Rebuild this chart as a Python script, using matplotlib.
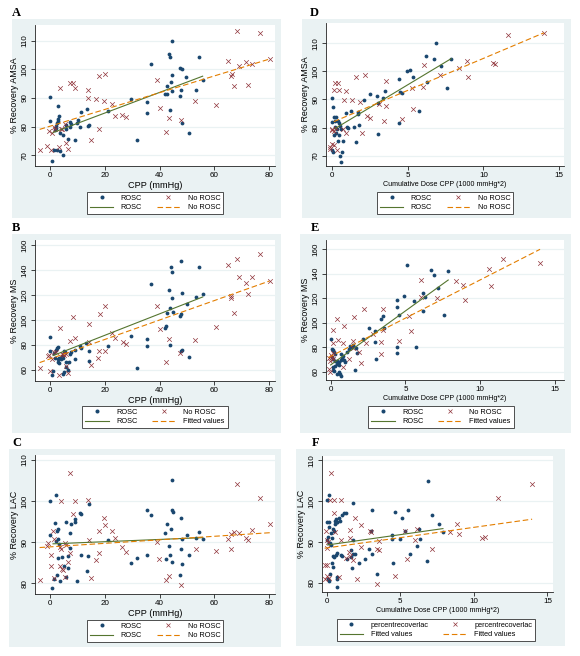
import numpy as np
import matplotlib
matplotlib.use("Agg")
import matplotlib.pyplot as plt
from matplotlib.patches import Rectangle
from matplotlib.lines import Line2D

plt.rcParams['font.family'] = ['Liberation Sans', 'DejaVu Sans']

# Couleurs style Stata s2color
NAVY = "#1A476F"
MAROON = "#90353B"
GREEN = "#55752F"
ORANGE = "#E37E00"
BG = "#EAF2F3"

W, H = 580, 656

# ---------------- Données ----------------
# Panel A : CPP vs % Recovery AMSA
a_rosc_cpp = [0, 0, 0.6, 2.8, 3.1, 2.9, 2.8, 2.5, 2.2, 2.0, 1.6, 3.4, 4.7, 1.5, 2.3, 3.6, 4.7,
              6.5, 9.0, 5.6, 5.9, 7.4, 7.4, 7.5, 9.6, 10.8, 10.2, 11.4, 13.5, 13.8, 14.2, 21.3,
              29.5, 31.6, 35.5, 35.3, 36.9, 42.0, 42.6, 42.8, 43.3, 43.9, 44.6, 43.8, 44.7, 44.1,
              44.7, 47.5, 48.3, 47.8, 47.5, 48.3, 49.8, 50.9, 53.3, 54.3, 55.8]
a_rosc_amsa = [90.5, 81.8, 67.8, 87.3, 83.8, 82.6, 81.9, 81.1, 80.2, 79.5, 78.8, 77.8, 77.0, 71.7,
               71.8, 71.4, 70.1, 75.5, 75.3, 79.0, 80.6, 81.6, 79.9, 80.9, 81.3, 79.9, 82.3, 85.1,
               86.0, 80.3, 80.4, 85.5, 89.6, 75.2, 88.7, 84.6, 101.7, 91.4, 91.5, 94.0, 105.3,
               104.2, 110.0, 85.9, 97.9, 95.4, 92.3, 100.3, 100.0, 92.9, 90.7, 81.4, 97.2, 77.7,
               92.9, 104.4, 96.1]
a_no_cpp = [-3.9, -1.1, -0.6, 0.1, 0.5, 1.2, 1.6, 3.3, 3.7, 4.0, 4.3, 5.5, 5.6, 6.5, 7.1, 8.5,
            9.1, 13.9, 13.9, 14.8, 16.8, 17.8, 17.9, 19.7, 20.1, 22.7, 23.8, 26.3, 27.8, 39.0,
            40.0, 42.5, 43.5, 48.0, 52.9, 60.7, 65.1, 66.2, 66.4, 67.3, 68.4, 69.1, 71.6, 72.4,
            73.7, 76.8, 80.3]
a_no_amsa = [71.8, 73.3, 78.5, 71.8, 77.6, 79.7, 79.0, 72.9, 93.3, 79.3, 79.0, 80.9, 74.1, 72.0,
             95.3, 95.3, 93.3, 92.6, 90.0, 75.3, 89.8, 97.8, 79.2, 88.8, 98.5, 88.0, 83.7, 84.2,
             83.5, 96.2, 86.6, 78.2, 83.1, 82.3, 89.1, 87.7, 102.8, 97.8, 98.5, 94.3, 113.4,
             101.0, 102.4, 94.4, 102.0, 112.8, 103.6]
a_fit_rosc = ([1.0, 55.8], [77.9, 97.6])
a_fit_no = ([-3.9, 80.3], [79.0, 103.6])

# Panel B : CPP vs % Recovery MS
b_rosc_cpp = [0, 0, 0.5, 1.0, 1.5, 1.7, 2.2, 2.5, 2.8, 2.7, 2.9, 3.2, 3.2, 3.8, 4.2, 4.7, 5.1,
              5.4, 5.9, 5.6, 5.1, 4.7, 6.6, 6.7, 7.1, 7.6, 8.9, 9.2, 10.8, 11.2, 13.2, 14.2, 14.0,
              21.3, 29.5, 31.6, 35.3, 35.5, 36.9, 41.9, 42.5, 42.8, 43.6, 43.8, 43.9, 44.2, 44.6,
              44.7, 45.0, 47.5, 47.7, 47.8, 48.3, 47.8, 48.4, 49.9, 50.9, 53.3, 54.3, 55.8]
b_rosc_ms = [86.7, 75.2, 56.0, 59.5, 73.3, 69.9, 76.0, 77.3, 78.4, 68.8, 66.7, 65.9, 69.9, 68.8,
             71.5, 69.3, 75.2, 74.1, 66.7, 62.7, 58.7, 56.5, 60.0, 66.4, 72.5, 74.1, 76.0, 68.8,
             79.5, 77.9, 81.9, 75.2, 67.2, 79.2, 87.2, 61.3, 79.2, 84.8, 128.5, 93.3, 94.9, 105.9,
             124.0, 80.0, 109.9, 142.7, 138.7, 117.6, 106.7, 102.9, 104.8, 75.2, 76.0, 146.9,
             121.9, 112.5, 70.7, 118.4, 142.1, 120.5]
b_no_cpp = [-3.9, -1.0, -0.6, 0, 0.7, 1.2, 2.0, 3.2, 3.7, 4.3, 4.7, 5.1, 5.6, 5.6, 6.5, 7.1, 8.3,
            9.1, 14.2, 14.2, 14.95, 17.5, 17.9, 18.1, 20.1, 19.9, 22.5, 23.7, 26.5, 27.7, 39.0,
            40.0, 42.3, 43.3, 47.5, 53.1, 60.7, 65.0, 66.3, 66.3, 67.4, 68.4, 69.1, 71.6, 72.4,
            73.7, 76.8, 80.3]
b_no_ms = [61.3, 71.2, 72.0, 59.2, 68.8, 74.1, 74.1, 56.0, 93.9, 72.5, 72.8, 72.0, 72.5, 63.5,
           57.9, 83.2, 102.7, 85.9, 97.1, 82.7, 64.0, 69.9, 75.5, 104.8, 111.2, 75.5, 89.9, 85.3,
           82.7, 80.8, 111.2, 92.8, 66.7, 85.1, 73.9, 83.7, 94.7, 144.0, 119.2, 117.9, 105.3,
           148.8, 134.1, 129.9, 121.1, 134.1, 152.5, 131.2]
b_fit_rosc = ([1.0, 55.8], [71.5, 118.4])
b_fit_no = ([-3.9, 80.3], [65.9, 131.2])

# Panel C : CPP vs % Recovery LAC
c_rosc_cpp = [0, 0, 0.6, 1.5, 1.6, 2.0, 2.2, 2.5, 2.8, 2.9, 2.7, 2.5, 3.2, 3.4, 4.4, 5.1, 5.6,
              5.9, 6.5, 6.6, 7.4, 7.4, 7.6, 8.9, 9.2, 9.8, 10.8, 11.2, 11.4, 13.5, 13.9, 14.2,
              21.1, 29.5, 31.6, 35.3, 35.5, 36.9, 41.9, 42.6, 42.5, 43.6, 44.1, 43.8, 44.4, 44.6,
              44.7, 44.8, 47.7, 47.8, 47.5, 48.3, 48.3, 49.9, 50.9, 53.3, 54.3, 55.8]
c_rosc_lac = [100.1, 91.8, 78.8, 81.1, 94.6, 90.4, 101.5, 92.7, 93.3, 90.8, 86.2, 81.9, 89.5,
              80.5, 86.3, 84.2, 81.6, 95.0, 86.7, 83.7, 92.3, 88.7, 94.5, 95.0, 95.6, 80.6, 97.0,
              96.9, 87.0, 83.0, 86.6, 99.3, 90.5, 84.9, 86.1, 87.0, 97.8, 96.5, 92.2, 94.4, 85.8,
              89.0, 93.1, 86.8, 85.2, 105.0, 97.8, 97.3, 95.8, 88.3, 81.9, 84.6, 90.7, 91.7, 87.0,
              90.9, 92.4, 90.8]
c_no_cpp = [-3.9, -1.1, -1.0, 0.4, 0.2, 1.0, 1.5, 1.2, 3.4, 3.7, 4.0, 3.9, 4.2, 4.7, 5.5, 5.6,
            5.5, 6.5, 7.1, 7.2, 8.3, 9.1, 13.9, 14.2, 14.8, 16.8, 17.8, 17.9, 19.6, 20.0, 22.5,
            23.8, 26.3, 27.8, 39.0, 39.8, 42.4, 43.5, 47.9, 53.2, 60.7, 65.1, 66.2, 66.3, 67.4,
            68.4, 69.1, 71.7, 72.4, 73.8, 76.8, 80.4]
c_no_lac = [80.8, 89.1, 89.8, 84.2, 87.0, 92.6, 90.7, 81.4, 84.2, 88.8, 88.3, 99.9, 83.6, 83.2,
            89.7, 89.3, 81.6, 85.3, 106.9, 87.3, 96.9, 100.1, 100.3, 90.5, 81.3, 85.6, 92.8, 87.4,
            95.8, 94.1, 92.7, 90.9, 88.8, 87.5, 90.0, 85.8, 80.9, 81.8, 79.7, 88.3, 87.9, 90.7,
            91.9, 88.3, 92.5, 104.2, 92.3, 91.0, 90.5, 93.0, 100.7, 94.5]
c_fit_rosc = ([1.0, 55.8], [89.6, 91.1])
c_fit_no = ([-3.9, 80.4], [88.7, 92.3])

# Panel D : dose cumulée vs % Recovery AMSA
d_rosc_dose = [0, 0.04, 0.1, 0.26, 0, 0.2, 0.35, 0.44, 0.53, 0.2, 0.3, 0.57, 0.22, 0.1, 0.44,
               0.37, 0.7, 0, 0.04, 0.66, 0.5, 0.57, 0.88, 1.23, 1.41, 0.97, 1.06, 1.67, 1.67,
               1.54, 1.74, 2.11, 2.49, 2.97, 3.0, 3.04, 3.33, 3.5, 4.43, 4.43, 4.47, 4.6, 4.93,
               5.11, 5.33, 5.73, 6.17, 6.26, 6.74, 6.87, 7.2, 7.62, 7.86]
d_rosc_amsa = [90.6, 87.4, 83.9, 83.6, 81.9, 82.3, 82.2, 81.5, 80.5, 80.1, 79.5, 79.4, 77.9,
               77.2, 77.5, 75.3, 75.1, 71.9, 71.4, 71.3, 69.9, 67.6, 85.2, 86.0, 80.3, 80.1,
               79.8, 85.5, 84.8, 75.0, 80.8, 89.7, 91.8, 91.2, 88.6, 77.7, 90.6, 93.0, 97.4,
               81.5, 92.8, 92.2, 100.0, 100.6, 97.9, 86.0, 105.6, 96.3, 104.4, 110.2, 101.8,
               94.1, 104.5]
d_no_dose = [-0.18, -0.13, 0, 0.1, 0.3, 0, 0, 0.1, 0.22, 0.18, 0.4, 0.1, 0.42, 0.8, 0.88, 1.28,
             0.7, 0.93, 1.54, 1.85, 1.98, 2.18, 2.29, 2.51, 3.08, 3.39, 3.55, 3.52, 4.58, 5.26,
             5.37, 6.06, 6.0, 7.14, 8.39, 8.9, 8.96, 10.6, 10.75, 11.6, 14.0]
d_no_amsa = [72.2, 72.9, 74.0, 73.8, 72.0, 79.1, 79.5, 78.8, 79.7, 95.7, 95.7, 93.5, 93.5, 89.9,
             92.9, 89.9, 79.5, 78.2, 98.0, 89.0, 78.2, 98.6, 84.2, 83.5, 88.4, 82.4, 96.5, 87.8,
             83.0, 94.2, 86.7, 102.3, 94.4, 98.6, 101.2, 103.7, 97.9, 102.9, 102.6, 113.1, 113.7]
d_fit_rosc = ([0.2, 7.86], [79.7, 104.5])
d_fit_no = ([0.1, 14.0], [82.1, 113.7])

# Panel E : dose cumulée vs % Recovery MS
e_rosc_dose = [0, 0.07, 0.18, 0.22, 0.29, 0.09, 0.18, 0.31, 0.40, 0.54, 0.45, 0.58, 0.71, 0.76,
               0.85, 0.67, 0.27, 0.18, 0.13, 0.25, 0.4, 0.54, 0.63, 0.67, 0.89, 0.98, 1.07, 1.25,
               1.29, 1.43, 1.52, 1.7, 1.79, 1.61, 2.14, 2.59, 2.99, 2.99, 3.04, 3.37, 3.53, 3.57,
               4.46, 4.42, 4.58, 4.46, 4.46, 4.93, 5.13, 5.58, 6.16, 6.16, 6.34, 6.72, 6.9, 7.21,
               7.59, 7.86, 5.71]
e_rosc_ms = [87.0, 78.5, 77.4, 76.3, 74.7, 71.7, 70.4, 69.0, 66.5, 65.4, 68.7, 68.2, 69.3, 71.4,
             72.5, 74.2, 64.9, 63.8, 61.4, 60.5, 57.8, 60.0, 57.8, 56.7, 69.3, 68.2, 75.8, 78.5,
             81.3, 80.2, 81.5, 79.1, 75.0, 61.1, 87.0, 95.4, 84.5, 93.5, 70.4, 103.1, 105.5,
             96.0, 79.9, 75.5, 106.0, 112.9, 118.6, 121.9, 147.2, 117.5, 109.6, 124.0, 121.0,
             142.8, 138.7, 128.7, 106.0, 142.3, 79.9]
e_no_dose = [-0.11, -0.04, -0.09, 0.0, 0.07, 0.13, -0.04, 0.18, 0.13, 0.45, 0.18, 0.51, 0.89,
             0.85, 0.80, 1.25, 1.5, 1.52, 1.56, 1.88, 2.01, 2.23, 2.34, 2.86, 3.37, 3.37, 3.53,
             3.53, 4.6, 5.27, 5.38, 6.03, 6.07, 7.1, 8.35, 8.88, 8.95, 10.58, 10.71, 11.52, 14.0]
e_no_ms = [62.2, 60.0, 70.9, 73.7, 72.3, 70.4, 68.6, 75.6, 93.8, 102.8, 83.2, 85.9, 97.6, 83.2,
           64.1, 70.4, 85.3, 79.6, 104.4, 75.8, 67.4, 111.2, 83.2, 90.5, 84.0, 74.7, 111.2, 94.1,
           85.3, 105.8, 93.2, 121.0, 134.7, 120.2, 134.4, 131.1, 118.3, 144.2, 130.3, 152.4, 148.8]
e_fit_rosc = ([0.0, 7.86], [65.5, 134.9])
e_fit_no = ([-0.15, 14.0], [71.6, 160.0])

# Panel F : dose cumulée vs % Recovery LAC
f_rosc_dose = [0, 0.18, 0.05, 0.14, 0.18, 0.32, 0.09, 0.05, 0.14, 0.23, 0.32, 0.36, 0.41, 0.5,
               0.54, 0.59, 0.63, 0.68, 0.72, 0.45, 0.5, 0.63, 0.68, 0.36, 0.41, 0.18, 0.23, 0.09,
               0.68, 0.72, 0.68, 0.9, 0.86, 0.95, 1.04, 1.04, 1.18, 1.31, 1.36, 1.63, 1.72, 1.76,
               1.81, 1.67, 1.81, 1.9, 2.22, 2.58, 2.9, 3.03, 3.05, 3.08, 3.39, 4.43, 4.43, 4.52,
               4.62, 4.98, 5.11, 5.34, 5.52, 5.66, 6.15, 6.29, 6.33, 6.79, 6.9, 7.19, 7.62, 7.9]
f_rosc_lac = [100.2, 101.5, 94.8, 93.7, 95.0, 92.2, 91.2, 90.4, 89.9, 89.8, 89.3, 90.9, 93.3,
              92.8, 94.5, 95.1, 95.6, 94.8, 95.0, 86.7, 86.3, 86.8, 87.3, 85.0, 83.9, 80.5, 82.3,
              81.1, 81.0, 81.5, 79.0, 95.1, 95.8, 86.9, 86.5, 96.7, 97.1, 97.1, 85.9, 86.3, 83.7,
              90.4, 99.5, 88.1, 87.2, 87.0, 85.0, 85.9, 88.3, 92.6, 97.9, 87.2, 82.2, 91.7, 90.7,
              84.9, 97.3, 90.7, 95.9, 92.8, 97.9, 87.0, 89.1, 93.2, 90.7, 85.3, 105.0, 96.6, 94.5,
              92.5]
f_no_dose = [0.27, -0.09, 0.05, -0.05, 0, 0.09, 0.05, -0.14, 0.05, 0.18, 0.23, 0.5, 0.95, 0.5,
             0.59, 0.86, 0.95, 1.31, 1.49, 1.58, 1.58, 1.58, 1.76, 1.9, 2.04, 2.31, 2.35, 2.94,
             2.99, 3.44, 3.53, 3.53, 3.44, 4.62, 5.29, 5.43, 6.02, 6.11, 7.15, 8.37, 8.87, 8.96,
             10.54, 10.77, 11.61, 13.96]
f_no_lac = [107.0, 84.4, 84.4, 92.8, 90.6, 90.1, 88.5, 81.1, 81.6, 81.2, 100.2, 100.2, 100.3,
            97.1, 92.5, 81.4, 90.6, 86.1, 87.5, 93.0, 91.0, 86.5, 85.7, 95.9, 81.1, 94.2, 88.8,
            92.6, 92.4, 88.3, 88.1, 90.2, 79.8, 81.8, 92.6, 85.9, 90.6, 93.2, 88.3, 92.4, 94.5,
            91.9, 90.9, 91.2, 100.7, 104.3]
f_fit_rosc = ([0.05, 7.9], [89.3, 93.3])
f_fit_no = ([-0.14, 13.96], [88.5, 95.6])

cpp_ticks = [0, 20, 40, 60, 80]
dose_ticks = [0, 5, 10, 15]
amsa_ticks = [70, 80, 90, 100, 110]
ms_ticks = [60, 80, 100, 120, 140, 160]
lac_ticks = [80, 90, 100, 110]

lab_std = ["ROSC", "No ROSC", "ROSC", "No ROSC"]
lab_fit = ["ROSC", "No ROSC", "ROSC", "Fitted values"]
lab_f = ["percentrecoverlac", "percentrecoverlac", "Fitted values", "Fitted values"]


fig = plt.figure(figsize=(W / 100, H / 100), dpi=100)
fig.patch.set_facecolor("white")


def px_box(x0, y0, x1, y1):
    # boite en pixels -> coordonnées figure
    return [x0 / W, 1 - y1 / H, (x1 - x0) / W, (y1 - y0) / H]


def panel(letter, letter_xy, bg, box, xs_r, ys_r, xs_n, ys_n, fit_r, fit_n,
          xlabel, ylabel, xticks, yticks, xlim, ylim, labels, leg_xy, xlab_size=6.6):
    # fond bleuté (graph region de Stata), sous les axes
    x0, y0, x1, y1 = bg
    fig.patches.append(Rectangle((x0 / W, 1 - y1 / H), (x1 - x0) / W, (y1 - y0) / H,
                                 transform=fig.transFigure, facecolor=BG,
                                 edgecolor="none", zorder=-10))
    fig.text(letter_xy[0] / W, 1 - letter_xy[1] / H, letter, family="Liberation Serif",
             fontweight="bold", fontsize=9, ha="left", va="center")

    ax = fig.add_axes(px_box(*box))
    ax.set_facecolor("white")
    ax.scatter(xs_r, ys_r, s=7.5, color=NAVY, marker="o", linewidths=0, zorder=3)
    ax.scatter(xs_n, ys_n, s=11, color=MAROON, marker="x", linewidths=0.5, zorder=3)
    ax.plot(fit_r[0], fit_r[1], color=GREEN, lw=0.8, zorder=4)
    ax.plot(fit_n[0], fit_n[1], color=ORANGE, lw=0.8, ls=(0, (5, 2.5)), zorder=4)

    ax.set_xlim(*xlim)
    ax.set_ylim(*ylim)
    ax.set_xticks(xticks)
    ax.set_yticks(yticks)
    ax.yaxis.grid(True, color=BG, lw=0.9)
    ax.set_axisbelow(True)
    for s in ("top", "right"):
        ax.spines[s].set_visible(False)
    for s in ("left", "bottom"):
        ax.spines[s].set_linewidth(0.6)
        ax.spines[s].set_color("#222222")
    ax.tick_params(direction="out", length=3, width=0.6, labelsize=5.8, pad=1.5,
                   color="#222222")
    for t in ax.get_yticklabels():
        t.set_rotation(90)
        t.set_va("center")
    ax.set_xlabel(xlabel, fontsize=xlab_size, labelpad=1.5)
    ax.set_ylabel(ylabel, fontsize=6.4, labelpad=2)

    handles = [
        Line2D([], [], ls="none", marker="o", ms=2.9, color=NAVY, mew=0),
        Line2D([], [], color=GREEN, lw=0.8),
        Line2D([], [], ls="none", marker="x", ms=3.3, color=MAROON, mew=0.5),
        Line2D([], [], color=ORANGE, lw=0.8, ls=(0, (5, 2.5))),
    ]
    labs = [labels[0], labels[2], labels[1], labels[3]]
    leg = ax.legend(handles, labs, ncol=2, loc="upper center",
                    bbox_to_anchor=(leg_xy[0] / W, 1 - leg_xy[1] / H),
                    bbox_transform=fig.transFigure, fontsize=5.3, frameon=True,
                    fancybox=False, edgecolor="#333333", framealpha=1,
                    handlelength=3.2, handletextpad=1.0, columnspacing=2.0,
                    labelspacing=0.3, borderpad=0.4)
    leg.get_frame().set_linewidth(0.6)
    return ax


panel("A", (12, 13), (12, 19, 281, 218), (35, 25, 275, 166),
      a_rosc_cpp, a_rosc_amsa, a_no_cpp, a_no_amsa, a_fit_rosc, a_fit_no,
      "CPP (mmHg)", "% Recovery AMSA", cpp_ticks, amsa_ticks,
      (-5.6, 82.3), (66.2, 115.5), lab_std, (155, 188))

panel("B", (12, 228), (12, 234, 281, 433), (35, 240, 275, 380.7),
      b_rosc_cpp, b_rosc_ms, b_no_cpp, b_no_ms, b_fit_rosc, b_fit_no,
      "CPP (mmHg)", "% Recovery MS", cpp_ticks, ms_ticks,
      (-5.6, 82.3), (51.4, 164.0), lab_fit, (155, 402))

panel("C", (12, 443), (9, 449, 281, 647), (35, 455, 275, 594),
      c_rosc_cpp, c_rosc_lac, c_no_cpp, c_no_lac, c_fit_rosc, c_fit_no,
      "CPP (mmHg)", "% Recovery LAC", cpp_ticks, lac_ticks,
      (-5.6, 82.3), (77.4, 111.2), lab_std, (155, 616))

panel("D", (310, 13), (302, 19, 571, 218), (326, 23, 564, 166),
      d_rosc_dose, d_rosc_amsa, d_no_dose, d_no_amsa, d_fit_rosc, d_fit_no,
      "Cumulative Dose CPP (1000 mmHg*2)", "% Recovery AMSA", dose_ticks, amsa_ticks,
      (-0.42, 15.33), (66.3, 117.2), lab_std, (445, 188), xlab_size=5.1)

panel("E", (311, 228), (300, 234, 571, 433), (326, 240, 564, 380),
      e_rosc_dose, e_rosc_ms, e_no_dose, e_no_ms, e_fit_rosc, e_fit_no,
      "Cumulative Dose CPP (1000 mmHg*2)", "% Recovery MS", dose_ticks, ms_ticks,
      (-0.31, 15.6), (53.2, 167.6), lab_fit, (441, 402), xlab_size=5.1)

panel("F", (312, 443), (296, 449, 565, 646), (322, 456, 553, 592),
      f_rosc_dose, f_rosc_lac, f_no_dose, f_no_lac, f_fit_rosc, f_fit_no,
      "Cumulative Dose CPP (1000 mmHg*2)", "% Recovery LAC", dose_ticks, lac_ticks,
      (-0.32, 15.38), (77.8, 111.05), lab_f, (436, 615), xlab_size=5.1)

fig.savefig("out.png", dpi=100)
